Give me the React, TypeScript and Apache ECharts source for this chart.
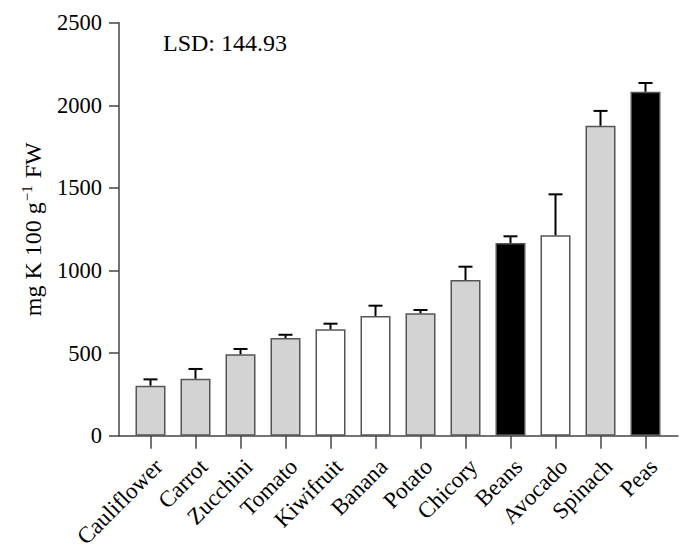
import React, { useEffect, useRef } from "react";
import * as echarts from "echarts";

const categories = ["Cauliflower", "Carrot", "Zucchini", "Tomato", "Kiwifruit", "Banana", "Potato", "Chicory", "Beans", "Avocado", "Spinach", "Peas"];
const means = [303, 345, 493, 591, 644, 725, 741, 942, 1166, 1213, 1876, 2082];
const errorTops = [341, 404, 525, 611, 678, 787, 761, 1023, 1207, 1461, 1966, 2135];
const fillColors = ["#d3d3d3", "#d3d3d3", "#d3d3d3", "#d3d3d3", "#ffffff", "#ffffff", "#d3d3d3", "#d3d3d3", "#000000", "#ffffff", "#d3d3d3", "#000000"];
const yTicks = [0, 500, 1000, 1500, 2000, 2500];
const lsdText = "LSD: 144.93";

const FONT = "'Liberation Serif', 'Times New Roman', serif";

export default function App() {
  const ref = useRef<HTMLDivElement>(null);
  useEffect(() => {
    if (!ref.current) return;
    const chart = echarts.init(ref.current, null, { renderer: "svg" });
    const axisColor = "#444";
    chart.setOption({
      animation: false,
      textStyle: { fontFamily: FONT, color: "#000" },
      grid: [
        { left: 128, width: 540, top: 22.7, height: 413, containLabel: false },
        { left: 119, width: 559, top: 22.7, height: 413, containLabel: false },
      ],
      xAxis: [
        {
          type: "category",
          gridIndex: 0,
          data: categories,
          axisLine: { show: false },
          axisTick: { show: true, length: 13, alignWithLabel: true, lineStyle: { color: axisColor, width: 1.5 }, inside: false },
          axisLabel: { rotate: 45, margin: 19, verticalAlign: "top", fontSize: 23, fontFamily: FONT, color: "#000", interval: 0 },
        },
        {
          type: "value",
          gridIndex: 1,
          min: 0,
          max: 1,
          axisLine: { show: true, lineStyle: { color: axisColor, width: 1.5 } },
          axisTick: { show: false },
          axisLabel: { show: false },
          splitLine: { show: false },
        },
      ],
      yAxis: [
        {
          type: "value",
          gridIndex: 0,
          min: 0,
          max: 2500,
          interval: 500,
          offset: 9,
          axisLine: { show: true, lineStyle: { color: axisColor, width: 1.5 } },
          axisTick: { show: true, length: 10, lineStyle: { color: axisColor, width: 1.5 } },
          axisLabel: {
            fontSize: 22.5,
            fontFamily: FONT,
            color: "#000",
            margin: 17,
            formatter: (v: number) => (yTicks.indexOf(v) >= 0 ? String(v) : ""),
          },
          splitLine: { show: false },
          name: "{a|mg K 100 g}{s|−1}{a| FW}",
          nameLocation: "middle",
          nameGap: 72,
          nameRotate: 90,
          nameTextStyle: {
            fontFamily: FONT,
            color: "#000",
            rich: {
              a: { fontSize: 24, fontFamily: FONT, color: "#000" },
              s: { fontSize: 15, fontFamily: FONT, color: "#000", padding: [0, 1, 13, 1] },
            },
          },
        },
        {
          type: "value",
          gridIndex: 1,
          show: false,
        },
      ],
      series: [
        {
          type: "bar",
          xAxisIndex: 0,
          yAxisIndex: 0,
          barWidth: 30,
          data: means.map((v, i) => ({
            value: v,
            itemStyle: { color: fillColors[i], borderColor: "#555", borderWidth: 1.5 },
          })),
          z: 2,
        },
        {
          type: "custom",
          xAxisIndex: 0,
          yAxisIndex: 0,
          z: 3,
          data: means.map((v, i) => [i, v, errorTops[i]]),
          renderItem: (params: any, api: any) => {
            const x = api.value(0);
            const base = api.coord([x, api.value(1)]);
            const top = api.coord([x, api.value(2)]);
            const half = 7;
            return {
              type: "group",
              children: [
                { type: "line", shape: { x1: base[0], y1: base[1], x2: top[0], y2: top[1] }, style: { stroke: "#000", lineWidth: 2 } },
                { type: "line", shape: { x1: top[0] - half, y1: top[1], x2: top[0] + half, y2: top[1] }, style: { stroke: "#000", lineWidth: 2 } },
              ],
            };
          },
        },
      ],
      graphic: [
        {
          type: "text",
          left: 163,
          top: 31,
          style: { text: lsdText, fontSize: 24, fontFamily: FONT, fill: "#000" },
        },
      ],
    });
    return () => chart.dispose();
  }, []);
  return <div ref={ref} style={{ width: 688, height: 555, position: "absolute", left: 0, top: 0 }} />;
}
